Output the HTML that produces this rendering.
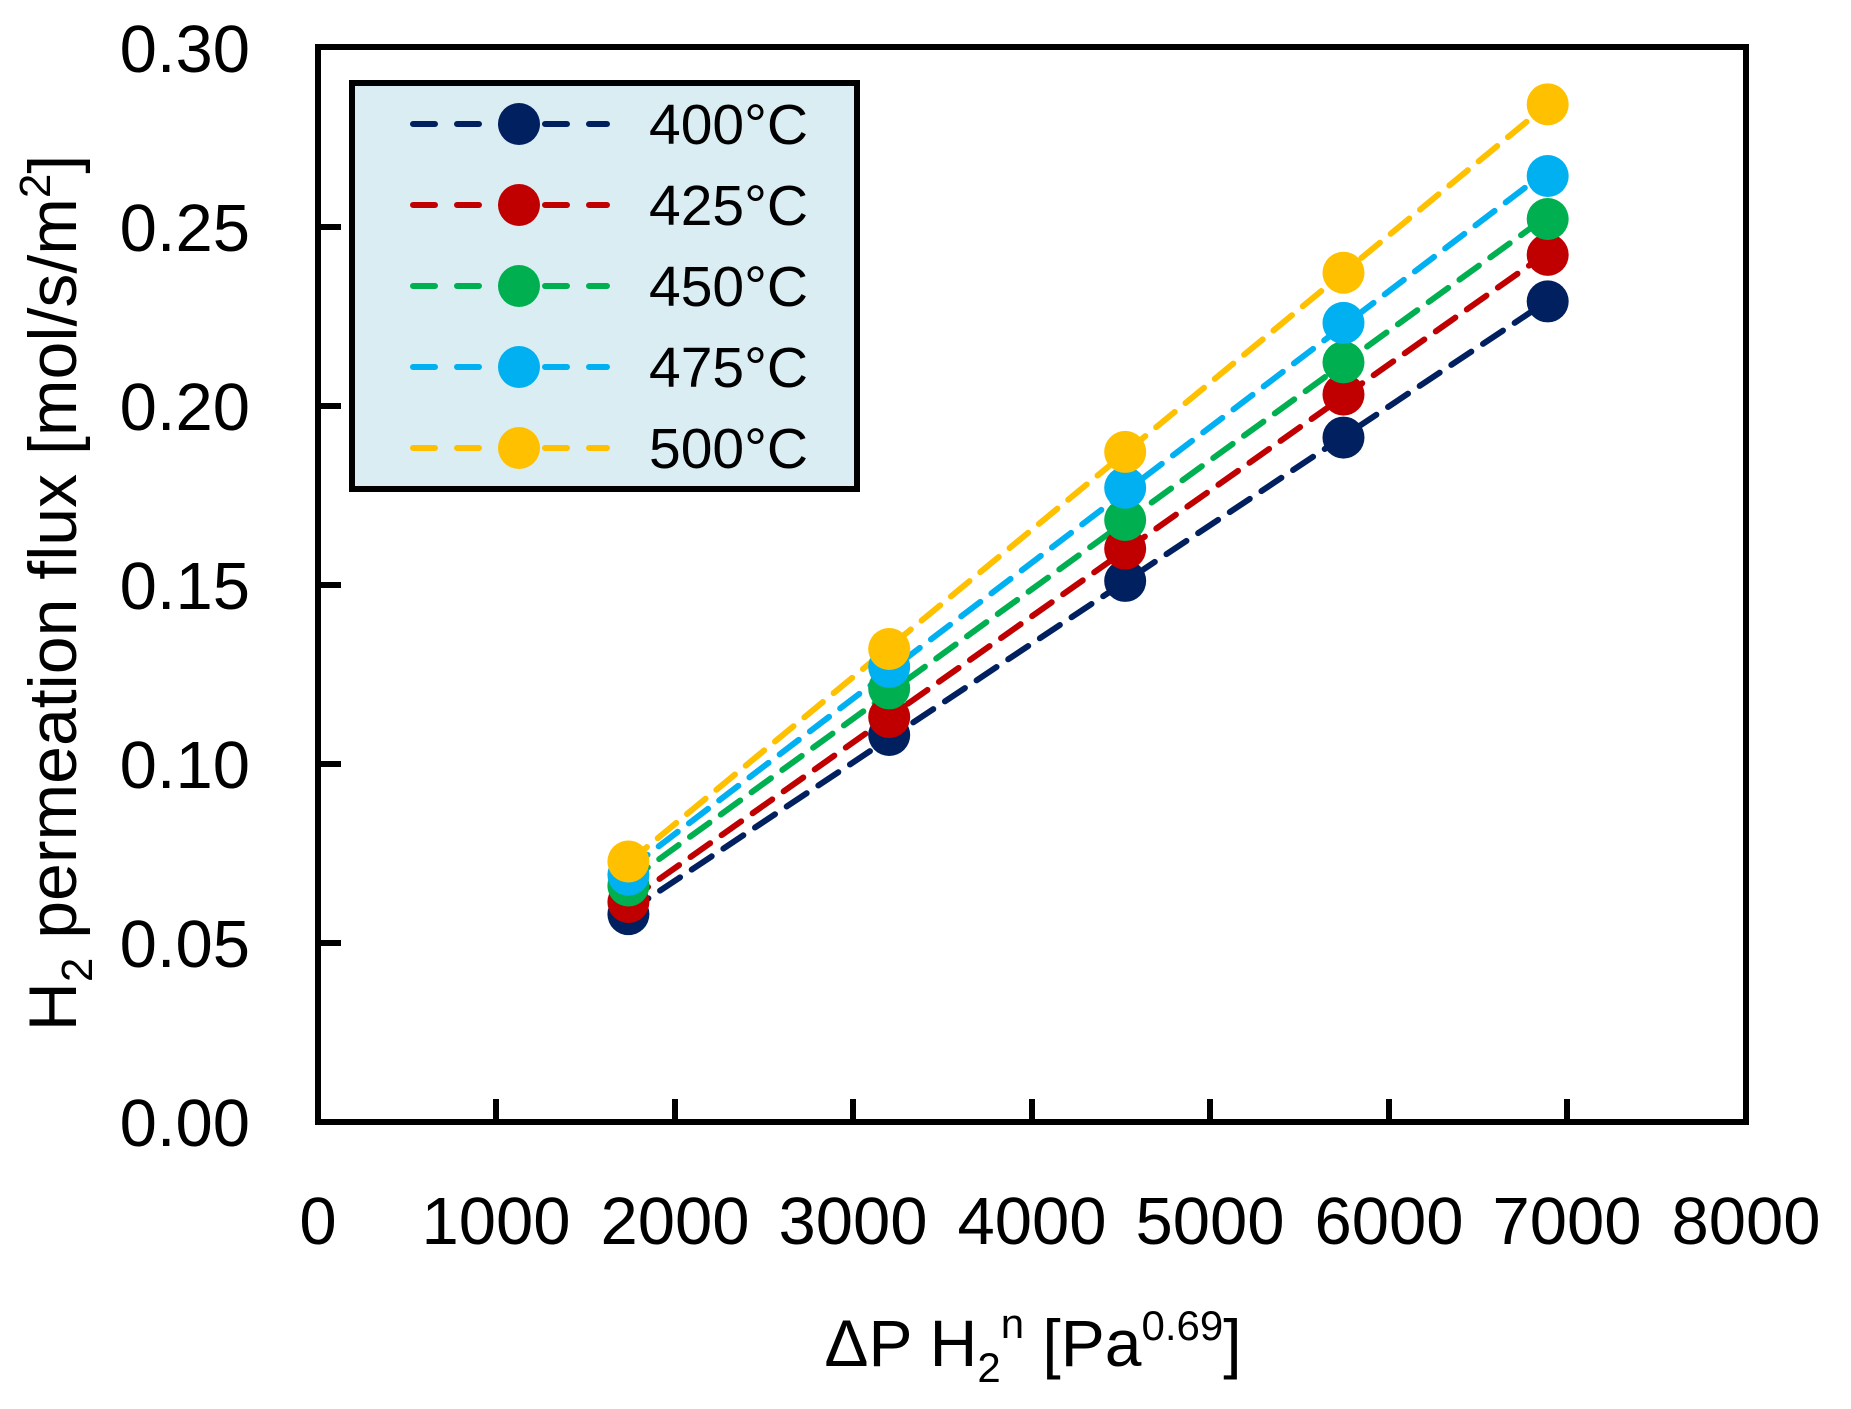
<!DOCTYPE html>
<html><head><meta charset="utf-8"><style>
html,body{margin:0;padding:0;background:#fff}
svg text{font-family:"Liberation Sans",sans-serif;fill:#000}
</style></head><body>
<svg id="s" width="1851" height="1404" viewBox="0 0 1851 1404" xmlns="http://www.w3.org/2000/svg">
<g id="plot"></g>
<rect x="318" y="47" width="1428" height="1075" fill="none" stroke="#000" stroke-width="6"/>
<g stroke="#000" stroke-width="6">
<line x1="318" y1="943" x2="341" y2="943"/><line x1="318" y1="764" x2="341" y2="764"/>
<line x1="318" y1="585" x2="341" y2="585"/><line x1="318" y1="406" x2="341" y2="406"/>
<line x1="318" y1="227" x2="341" y2="227"/>
<line x1="496" y1="1122" x2="496" y2="1099"/><line x1="675" y1="1122" x2="675" y2="1099"/>
<line x1="853" y1="1122" x2="853" y2="1099"/><line x1="1032" y1="1122" x2="1032" y2="1099"/>
<line x1="1210" y1="1122" x2="1210" y2="1099"/><line x1="1389" y1="1122" x2="1389" y2="1099"/>
<line x1="1567" y1="1122" x2="1567" y2="1099"/>
</g>
<g font-size="67" text-anchor="end">
<text x="250" y="72">0.30</text><text x="250" y="251">0.25</text><text x="250" y="430">0.20</text>
<text x="250" y="609">0.15</text><text x="250" y="788">0.10</text><text x="250" y="967">0.05</text>
<text x="250" y="1146">0.00</text>
</g>
<g font-size="67" text-anchor="middle">
<text x="318" y="1244">0</text><text x="496" y="1244">1000</text><text x="675" y="1244">2000</text>
<text x="853" y="1244">3000</text><text x="1032" y="1244">4000</text><text x="1210" y="1244">5000</text>
<text x="1389" y="1244">6000</text><text x="1567" y="1244">7000</text><text x="1746" y="1244">8000</text>
</g>
<g font-size="66" text-anchor="middle">
<text x="1033" y="1366">ΔP H<tspan font-size="42" dy="16">2</tspan><tspan font-size="42" dy="-44">n</tspan><tspan dy="28"> [Pa</tspan><tspan font-size="42" dy="-26">0.69</tspan><tspan dy="26">]</tspan></text>
<text transform="translate(76,593) rotate(-90)" font-size="68">H<tspan font-size="44" dy="16">2</tspan><tspan dy="-16"> permeation flux [mol/s/m</tspan><tspan font-size="44" dy="-26">2</tspan><tspan dy="26">]</tspan></text>
</g>
<rect x="352" y="83" width="505" height="406" fill="#daedf3" stroke="#000" stroke-width="6"/>
<g id="leg"></g>
</svg>
<script>
const cols=["#002060","#c00000","#00b050","#00b0f0","#ffc000"];
const names=["400°C","425°C","450°C","475°C","500°C"];
const xs=[1739,3200,4522,5745,6889];
const ys=[[0.058,0.108,0.151,0.191,0.229],[0.0614,0.113,0.160,0.203,0.242],[0.066,0.121,0.168,0.212,0.252],[0.069,0.127,0.177,0.223,0.264],[0.0727,0.132,0.187,0.237,0.284]];
const X=v=>318+v/8000*1428, Y=v=>1122-v/0.30*1075;
const ns="http://www.w3.org/2000/svg";
function el(t,a,p){const e=document.createElementNS(ns,t);for(const k in a)e.setAttribute(k,a[k]);p.appendChild(e);return e;}
const plot=document.getElementById("plot"),leg=document.getElementById("leg");
ys.forEach((yy,i)=>{
 const n=5,mx=xs.reduce((a,b)=>a+b)/n,my=yy.reduce((a,b)=>a+b)/n;
 let sxy=0,sxx=0;for(let k=0;k<n;k++){sxy+=(xs[k]-mx)*(yy[k]-my);sxx+=(xs[k]-mx)**2;}
 const b=sxy/sxx,a=my-b*mx;
 el("line",{x1:X(xs[0]),y1:Y(a+b*xs[0]),x2:X(xs[4]),y2:Y(a+b*xs[4]),stroke:cols[i],"stroke-width":6,"stroke-dasharray":"24,14","stroke-linecap":"round"},plot);
});
ys.forEach((yy,i)=>{yy.forEach((v,k)=>el("circle",{cx:X(xs[k]),cy:Y(v),r:21,fill:cols[i]},plot));});
names.forEach((nm,i)=>{
 const y=124+i*81;
 el("line",{x1:413,y1:y,x2:607,y2:y,stroke:cols[i],"stroke-width":6,"stroke-dasharray":"22,22","stroke-linecap":"round"},leg);
 el("circle",{cx:519,cy:y,r:21,fill:cols[i]},leg);
 const t=el("text",{x:649,y:y+20,"font-size":57},leg);t.textContent=nm;
});
</script>
</body></html>
